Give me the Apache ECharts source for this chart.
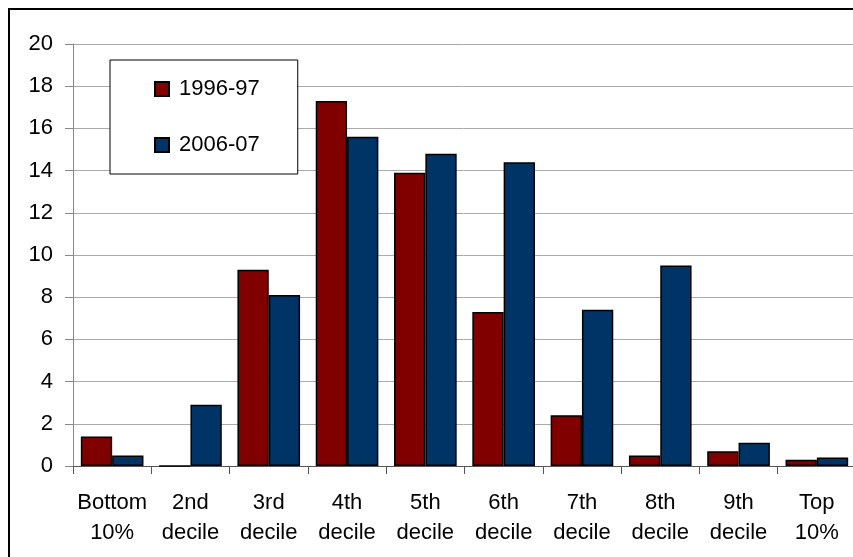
<!DOCTYPE html>
<html>
<head>
<meta charset="utf-8">
<style>
  html, body { margin: 0; padding: 0; background: #fff; }
  #chart { width: 853px; height: 557px; }
</style>
<script src="https://cdn.jsdelivr.net/npm/echarts@6/dist/echarts.min.js"></script>
</head>
<body>
<div id="chart"></div>
<script>
// Share of households by income decile
const categories = ['Bottom\n10%', '2nd\ndecile', '3rd\ndecile', '4th\ndecile', '5th\ndecile',
                    '6th\ndecile', '7th\ndecile', '8th\ndecile', '9th\ndecile', 'Top\n10%'];
const seriesNames = ['1996-97', '2006-07'];
const values1996 = [1.4, 0, 9.3, 17.3, 13.9, 7.3, 2.4, 0.5, 0.7, 0.3];
const values2006 = [0.5, 2.9, 8.1, 15.6, 14.8, 14.4, 7.4, 9.5, 1.1, 0.4];
const yTicks = { min: 0, max: 20, interval: 2 };

const FONT = '"Liberation Sans", Arial, sans-serif';
const chart = echarts.init(document.getElementById('chart'), null, { renderer: 'canvas' });

chart.setOption({
  backgroundColor: '#fff',
  animation: false,
  textStyle: { fontFamily: FONT },
  graphic: [{
    type: 'rect',
    shape: { x: 9, y: 9, width: 900, height: 600 },
    style: { fill: 'none', stroke: '#000', lineWidth: 2 },
    z: 100
  }],
  grid: { left: 73, right: -3, top: 44, bottom: 91, outerBoundsMode: 'none' },
  legend: {
    orient: 'vertical',
    left: 110,
    top: 60,
    padding: [18, 38, 18, 44],
    itemGap: 34,
    itemWidth: 14,
    itemHeight: 14,
    backgroundColor: '#fff',
    borderColor: '#000',
    borderWidth: 1,
    borderRadius: 0,
    icon: 'rect',
    textStyle: { fontSize: 22, lineHeight: 22, color: '#000', fontFamily: FONT, padding: [0, 0, 0, 5] },
    data: seriesNames,
    z: 10
  },
  xAxis: {
    type: 'category',
    data: categories,
    axisLine: { lineStyle: { color: '#555', width: 1 } },
    axisTick: { show: true, length: 8, alignWithLabel: false, lineStyle: { color: '#555' } },
    axisLabel: { color: '#000', fontSize: 22, lineHeight: 30, margin: 22, fontFamily: FONT, interval: 0 },
    splitLine: { show: false }
  },
  yAxis: {
    type: 'value',
    min: yTicks.min,
    max: yTicks.max,
    interval: yTicks.interval,
    axisLine: { show: true, lineStyle: { color: '#888', width: 1 } },
    axisTick: { show: true, length: 8, lineStyle: { color: '#888' } },
    axisLabel: { color: '#000', fontSize: 22, margin: 20, fontFamily: FONT },
    splitLine: { show: true, lineStyle: { color: '#aaa', width: 1 } }
  },
  series: [
    {
      name: seriesNames[0],
      type: 'bar',
      data: values1996,
      barGap: '0%',
      barCategoryGap: '20%',
      itemStyle: { color: '#800000', borderColor: '#000', borderWidth: 1.5 }
    },
    {
      name: seriesNames[1],
      type: 'bar',
      data: values2006,
      barGap: '0%',
      barCategoryGap: '20%',
      itemStyle: { color: '#003366', borderColor: '#000', borderWidth: 1.5 }
    }
  ]
});
</script>
</body>
</html>
